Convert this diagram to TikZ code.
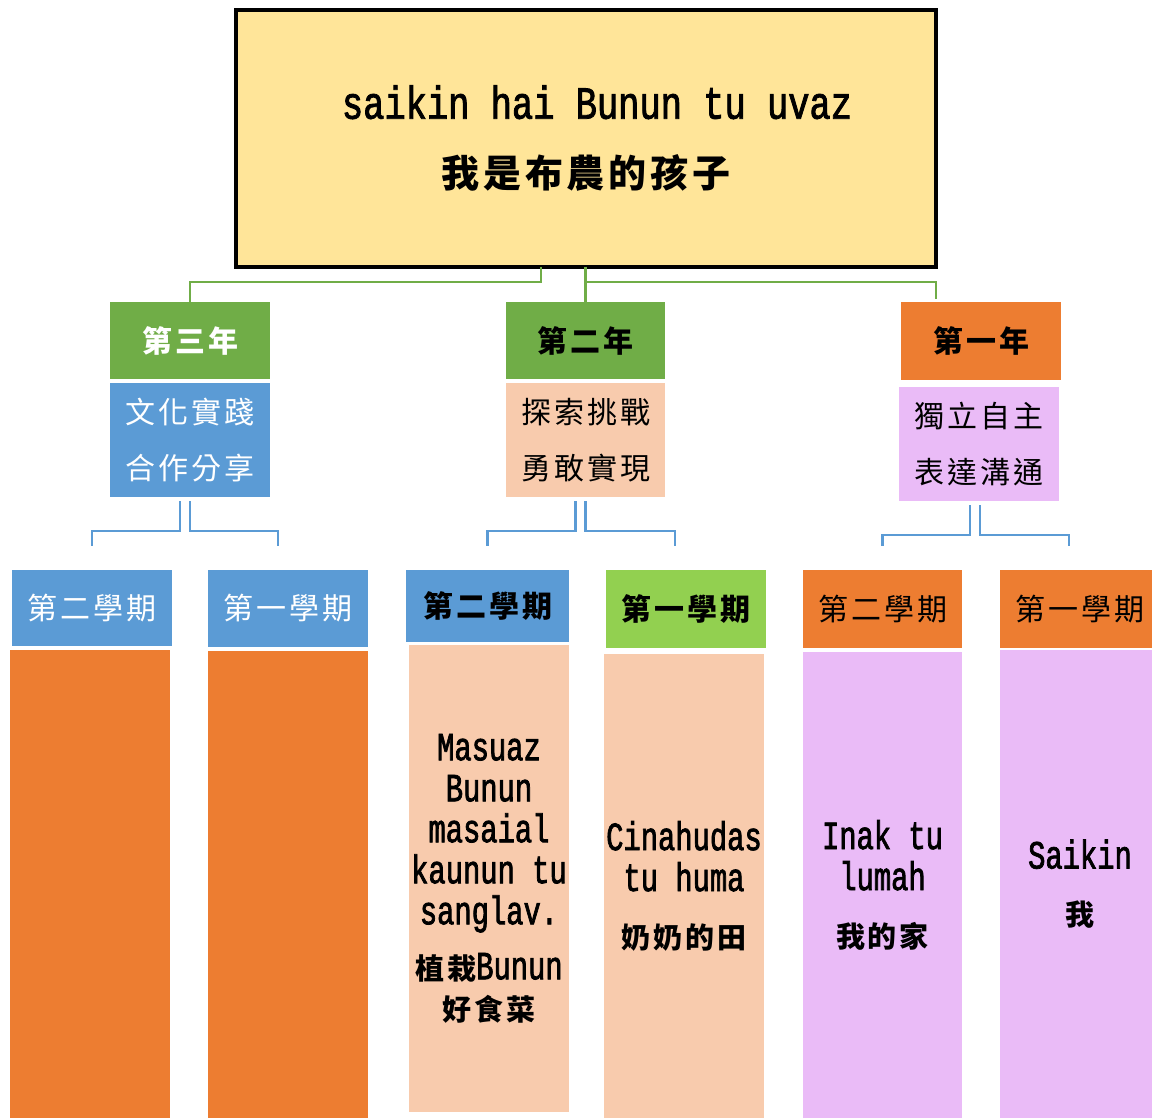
\documentclass[tikz,border=0pt]{standalone}
\usepackage{fontspec}
\setmainfont{Liberation Mono}
\newfontfamily\latA{Liberation Mono}[FakeStretch=0.77,FakeBold=1.8]
\newfontfamily\latB{Liberation Mono}[FakeStretch=0.72,FakeBold=1.8]
\newfontfamily\cjk{Noto Sans CJK TC}[LetterSpace=10]
\usetikzlibrary{calc}
\definecolor{yellowT}{HTML}{FFE599}
\definecolor{greenY}{HTML}{70AD47}
\definecolor{blueS}{HTML}{5B9BD5}
\definecolor{peachS}{HTML}{F8CBAD}
\definecolor{orangeS}{HTML}{ED7D31}
\definecolor{purpleS}{HTML}{EABBF7}
\definecolor{limeS}{HTML}{92D050}
\newcommand\cjkcol{\cjk\bfseries\fontsize{29}{41}\selectfont}
\tikzset{
  box/.style={rectangle, inner sep=0pt, outer sep=0pt, align=center},
  yearbox/.style={box, minimum width=160, minimum height=77, font=\cjk\bfseries\fontsize{30}{36}\selectfont},
  descbox/.style={box, minimum width=160, minimum height=114, font=\cjk\fontsize{30}{56}\selectfont},
  sembox/.style={box, minimum width=160, minimum height=77, font=\cjk\fontsize{30}{36}\selectfont},
  colbox/.style={box, minimum width=160, minimum height=467, font=\latB\fontsize{40}{41}\selectfont},
  gline/.style={draw=greenY, line width=2.5pt},
  bline/.style={draw=blueS, line width=2.5pt},
}
\begin{document}
\begin{tikzpicture}[x=1pt,y=-1pt]
\useasboundingbox (0,0) rectangle (1152,1118);
% top
\node[box, draw=black, line width=4pt, fill=yellowT, minimum width=700, minimum height=257,
  font=\latA\fontsize{46}{69}\selectfont] (top) at (586,138.5)
  {\hspace*{22pt}saikin hai Bunun tu uvaz\\{\cjk\bfseries\fontsize{38}{69}\selectfont 我是布農的孩子}};
% years
\node[yearbox, fill=greenY, text=white] (y3) at (190,340.5) {第三年};
\node[descbox, fill=blueS, text=white] (d3) at (190,440) {文化實踐\\合作分享};
\node[yearbox, fill=greenY, minimum width=159] (y2) at (585.5,340.5) {第二年};
\node[descbox, fill=peachS, minimum width=159] (d2) at (585.5,440) {探索挑戰\\勇敢實現};
\node[yearbox, fill=orangeS, minimum height=78] (y1) at (981,341) {第一年};
\node[descbox, fill=purpleS] (d1) at (979,444) {獨立自主\\表達溝通};
% semesters
\node[sembox, fill=blueS, text=white, minimum height=76] (s1) at (92,608) {第二學期};
\node[sembox, fill=blueS, text=white] (s2) at (288,608.5) {第一學期};
\node[sembox, fill=blueS, minimum width=163, minimum height=72, font=\cjk\bfseries\fontsize{30}{36}\selectfont] (s3) at (487.5,606) {\raisebox{-4pt}{第二學期}};
\node[sembox, fill=limeS, minimum height=78, font=\cjk\bfseries\fontsize{30}{36}\selectfont] (s4) at (686,609) {第一學期};
\node[sembox, fill=orangeS, minimum width=159, minimum height=78] (s5) at (882.5,609) {第二學期};
\node[sembox, fill=orangeS, minimum height=78] (s6) at (1080,609) {第一學期};
% columns
\node[colbox, fill=orangeS, minimum height=468] (c1) at (90,884) {};
\node[colbox, fill=orangeS] (c2) at (288,884.5) {};
\node[colbox, fill=peachS] (c3) at (489,878.5)
  {Masuaz\\Bunun\\masaial\\kaunun tu\\sanglav.\\[14pt]{\cjkcol 植栽}Bunun\\{\cjkcol 好食菜}};
\node[colbox, fill=peachS, minimum height=464] (c4) at (684,886)
  {Cinahudas\\tu huma\\[16pt]{\cjkcol 奶奶的田}};
\node[colbox, fill=purpleS, minimum width=159, minimum height=466] (c5) at (882.5,885)
  {Inak tu\\lumah\\[16pt]{\cjkcol 我的家}};
\node[colbox, fill=purpleS, minimum height=468] (c6) at (1080,884)
  {Saikin\\[16pt]{\cjkcol 我}};
% green connectors
\draw[gline] ([xshift=-45pt]top.south) -- ++(0,15) -| (y3.north);
\draw[gline] ([xshift=-0.5pt]top.south) -- (y2.north);
\draw[gline] ([xshift=-0.5pt]top.south) ++(0,15) -| ($(y1.north)+(-45,-3)$);
% blue connectors
\draw[bline] ([xshift=-10pt]d3.south) ++(0,4) -- ++(0,30) -| ($(s1.north)+(0,-24)$);
\draw[bline] (d3.south) ++(0,4) -- ++(0,30) -| ($(s2.north)+(-10,-24)$);
\draw[bline] ([xshift=-10pt]d2.south) ++(0,4) -- ++(0,30) -| ($(s3.north)+(0,-24)$);
\draw[bline] (d2.south) ++(0,4) -- ++(0,30) -| ($(s4.north)+(-11,-24)$);
\draw[bline] ([xshift=-9pt]d1.south) ++(0,4) -- ++(0,30) -| ($(s5.north)+(0,-24)$);
\draw[bline] ([xshift=1pt]d1.south) ++(0,4) -- ++(0,30) -| ($(s6.north)+(-11,-24)$);
\end{tikzpicture}
\end{document}
